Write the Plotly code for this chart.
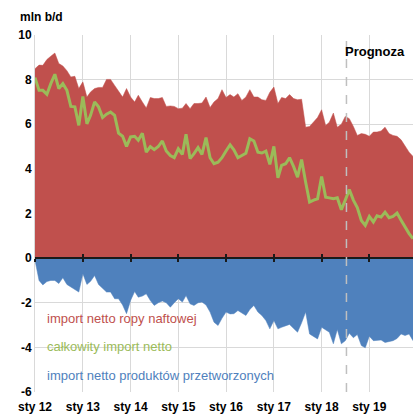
import pandas as pd
import plotly.graph_objects as go

months = pd.date_range("2012-01-01", "2019-12-01", freq="MS")

crude = [8.49, 8.65, 8.64, 8.9, 9.05, 9.19, 8.72, 8.61, 8.4, 8.12, 8.15, 7.6,
         7.9, 7.22, 7.45, 7.6, 7.65, 7.65, 8.01, 8.01, 7.74, 7.5, 7.22, 7.6,
         7.22, 7.0, 7.3, 7.0, 6.73, 7.2, 7.15, 7.15, 7.2, 6.8, 6.82, 6.8,
         6.7, 6.72, 6.93, 6.7, 6.93, 6.93, 6.95, 7.22, 6.75, 7.0, 7.15, 7.55,
         7.2, 7.33, 7.22, 7.37, 7.07, 7.22, 7.55, 7.22, 7.22, 7.1, 7.07, 7.43,
         7.67, 6.93, 7.2, 7.15, 7.33, 7.15, 7.1, 7.12, 5.87, 5.9, 6.1, 6.3,
         6.65, 5.94, 6.09, 6.5, 5.87, 6.0, 6.35, 6.25, 5.9, 5.5, 5.58, 5.55,
         5.46, 5.65, 5.65, 5.7, 5.87, 5.58, 5.5, 5.46, 5.3, 5.05, 4.75, 4.56]

total = [8.09, 7.52, 7.52, 7.34, 7.82, 8.24, 7.6, 7.82, 7.52, 6.8, 6.78, 5.95,
         7.25, 6.02, 6.4, 7.0, 6.78, 6.3, 6.45, 6.55, 6.4, 5.6, 5.46, 5.01,
         5.43, 5.46, 5.28, 5.6, 4.75, 5.0, 4.86, 5.0, 5.25, 4.8, 4.6, 4.5,
         4.9, 4.65, 5.55, 4.46, 4.68, 4.95, 4.65, 5.4, 4.5, 4.23, 4.3, 4.5,
         4.8, 5.08, 4.85, 4.5, 4.6, 4.7, 5.35, 5.25, 4.75, 4.71, 4.8, 4.2,
         5.01, 3.6, 4.16, 4.23, 4.5, 4.1, 3.63, 4.42, 3.4, 2.51, 2.6, 2.66,
         3.66, 2.73, 2.7, 2.66, 2.7, 2.17, 2.6, 3.07, 2.6, 2.27, 1.69, 1.47,
         1.87, 1.62, 1.9, 1.84, 2.06, 1.81, 1.87, 2.02, 1.7, 1.4, 1.1, 0.87]

products = [-0.1, -1.0, -1.2, -1.05, -1.0, -1.0, -1.14, -0.88, -1.18, -1.3, -1.4, -1.52,
            -0.7, -1.18, -1.04, -0.78, -1.18, -1.35, -1.52, -1.52, -1.82, -1.82, -2.1, -2.49,
            -1.9, -1.5, -1.75, -1.7, -1.6, -1.9, -2.12, -2.0, -1.92, -2.0, -2.2, -2.0,
            -1.82, -1.97, -1.68, -2.05, -2.12, -2.0, -1.97, -2.1, -2.42, -2.87, -3.02, -2.7,
            -2.42, -2.5, -2.49, -2.35, -2.45, -2.57, -2.3, -2.12, -2.42, -2.57, -2.8, -3.17,
            -2.8, -3.17, -3.1, -3.02, -2.97, -3.15, -3.32, -2.9, -2.42, -3.4, -3.5, -3.62,
            -3.1, -3.2, -3.32, -3.84, -3.2, -3.84, -3.7, -3.37, -3.57, -3.42, -3.92, -4.02,
            -3.5, -3.7, -3.68, -3.67, -3.78, -3.75, -3.7, -3.6, -3.4, -3.47, -3.4, -3.7]

tick_dates = pd.date_range("2012-01-01", "2019-01-01", freq="YS")
tick_labels = ["sty 12", "sty 13", "sty 14", "sty 15", "sty 16", "sty 17", "sty 18", "sty 19"]
y_ticks = [10, 8, 6, 4, 2, 0, -2, -4, -6]

series_names = ["import netto ropy naftowej", "całkowity import netto",
                "import netto produktów przetworzonych"]
RED, GREEN, BLUE = "#C0504D", "#9BBB59", "#4F81BD"
forecast_start = "2018-07-10"

xr = [months[0], months[-1]]
FONT = "Liberation Sans, Arial, sans-serif"

fig = go.Figure()
fig.add_trace(go.Scatter(x=months, y=crude, mode="lines", fill="tozeroy",
                         line=dict(color=RED, width=0.5), fillcolor=RED,
                         name=series_names[0], xaxis="x", yaxis="y"))
fig.add_trace(go.Scatter(x=months, y=products, mode="lines", fill="tozeroy",
                         line=dict(color=BLUE, width=0.5), fillcolor=BLUE,
                         name=series_names[2], xaxis="x2", yaxis="y"))
fig.add_trace(go.Scatter(x=months, y=total, mode="lines",
                         line=dict(color=GREEN, width=3),
                         name=series_names[1], xaxis="x3", yaxis="y"))

common_zero = dict(range=xr, overlaying="x", anchor="free", position=0.375,
                   showgrid=False, showticklabels=False, zeroline=False, automargin=False,
                   tickvals=tick_dates, ticklen=3, tickwidth=1.5, tickcolor="#1a1a1a",
                   showline=True, linecolor="#1a1a1a", linewidth=1.5)

fig.update_layout(
    width=413, height=415,
    margin=dict(l=35, r=0, t=35, b=23, autoexpand=False),
    paper_bgcolor="white", plot_bgcolor="white",
    showlegend=False,
    font=dict(family=FONT, color="black"),
    xaxis=dict(range=xr, tickvals=tick_dates, ticktext=tick_labels, automargin=False,
               showgrid=True, gridcolor="#D9D9D9", gridwidth=1,
               ticks="", showline=False, zeroline=False, ticklabelstandoff=6,
               tickfont=dict(size=12, family=FONT, color="black", weight="bold")),
    xaxis2=dict(ticks="outside", **common_zero),
    xaxis3=dict(ticks="inside", **common_zero),
    yaxis=dict(range=[-6, 10], tickvals=y_ticks, ticktext=[str(v) for v in y_ticks],
               automargin=False,
               showgrid=True, gridcolor="#D9D9D9", gridwidth=1, zeroline=False,
               showline=True, linecolor="#D9D9D9", linewidth=1, ticks="",
               tickfont=dict(size=12, family=FONT, color="black", weight="bold")),
    shapes=[dict(type="line", xref="x", yref="paper", x0=forecast_start, x1=forecast_start,
                 y0=0, y1=1, line=dict(color="#BFBFBF", width=1.5, dash="dash"), layer="above")],
    annotations=[
        dict(text="mln b/d", xref="paper", yref="paper", x=-0.045, y=1.0, yshift=18,
             xanchor="left", yanchor="middle", showarrow=False,
             font=dict(size=12, family=FONT, color="black", weight="bold")),
        dict(text="Prognoza", xref="x", yref="paper", x=forecast_start, y=0.955,
             xanchor="left", yanchor="middle", showarrow=False, xshift=-3,
             font=dict(size=13, family=FONT, color="black", weight="bold")),
        dict(text=series_names[0], xref="paper", yref="paper", x=0.026, y=(392 - 318.3) / 357,
             xanchor="left", yanchor="middle", showarrow=False,
             font=dict(size=13, family=FONT, color=RED)),
        dict(text=series_names[1], xref="paper", yref="paper", x=0.026, y=(392 - 346.7) / 357,
             xanchor="left", yanchor="middle", showarrow=False,
             font=dict(size=13, family=FONT, color=GREEN)),
        dict(text=series_names[2], xref="paper", yref="paper", x=0.026, y=(392 - 375) / 357,
             xanchor="left", yanchor="middle", showarrow=False,
             font=dict(size=13, family=FONT, color=BLUE)),
    ],
)

fig.write_html("out.html", config={"displayModeBar": False},
               post_script="document.body.style.margin='0';document.body.style.overflow='hidden';")
